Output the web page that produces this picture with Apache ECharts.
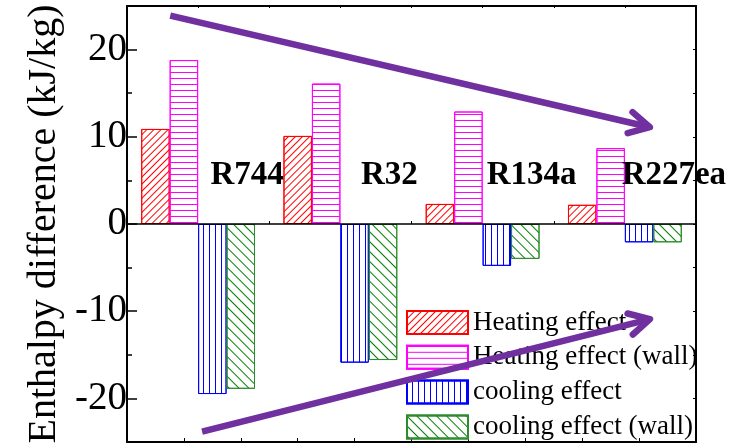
<!DOCTYPE html>
<html>
<head>
<meta charset="utf-8">
<script src="https://cdn.jsdelivr.net/npm/echarts@6/dist/echarts.min.js"></script>
<style>
  html, body { margin: 0; padding: 0; background: #fff; }
  #chart { width: 734px; height: 448px; }
</style>
</head>
<body>
<div id="chart"></div>
<script>
// Enthalpy difference per refrigerant (kJ/kg)
const refrigerants = ['R744', 'R32', 'R134a', 'R227ea'];
const heatingEffect = [10.9, 10.1, 2.3, 2.2];
const heatingEffectWall = [18.8, 16.1, 12.9, 8.7];
const coolingEffect = [-19.5, -15.9, -4.8, -2.1];
const coolingEffectWall = [-18.9, -15.6, -4.0, -2.1];
const seriesNames = ['Heating effect', 'Heating effect (wall)', 'cooling effect', 'cooling effect (wall)'];

const yMajorTicks = [-20, -10, 0, 10, 20];
const yMinorTicks = [-15, -5, 5, 15];

// Trend arrows: [xStart, yStart, xEnd, yEnd], x on the 0..10 frame scale, y in kJ/kg
const trendArrows = [
  [0.76, 23.9, 9.19, 11.1],
  [1.32, -23.8, 9.19, -10.9]
];

const SERIF = '"Liberation Serif", "Times New Roman", serif';

// Line hatching drawn with ECharts decals
function hatch(color, gap, rotation) {
  return {
    symbol: 'rect',
    symbolSize: 1,
    dashArrayX: [1, 0],
    dashArrayY: [1, gap],
    rotation: rotation,
    color: color
  };
}

function barSeries(name, data, decal, border) {
  return {
    name: name,
    type: 'bar',
    xAxisIndex: 0,
    yAxisIndex: 0,
    data: data,
    barGap: '0%',
    barCategoryGap: '20%',
    itemStyle: { color: '#ffffff', borderColor: border, borderWidth: 1, decal: decal },
    emphasis: { disabled: true },
    z: 2
  };
}

const chart = echarts.init(document.getElementById('chart'), null, { renderer: 'canvas' });

chart.setOption({
  animation: false,
  backgroundColor: '#fff',
  grid: { left: 127, right: 38, top: 6, bottom: 6, containLabel: false, outerBoundsMode: 'none' },
  legend: {
    orient: 'vertical',
    left: 406,
    top: 309,
    height: 140,
    padding: 0,
    itemWidth: 61,
    itemHeight: 23,
    itemGap: 7.8,
    icon: 'rect',
    data: seriesNames,
    selectedMode: false,
    textStyle: { fontFamily: SERIF, fontSize: 27, color: '#000' },
    z: 3
  },
  xAxis: [
    {
      type: 'category',
      data: refrigerants,
      position: 'bottom',
      axisLine: { onZero: true, lineStyle: { color: '#000', width: 1.5 } },
      axisTick: { show: true, inside: true, length: 3, lineStyle: { color: '#000' } },
      axisLabel: { show: false },
      splitLine: { show: false },
      z: 5
    },
    {
      type: 'value', min: 0, max: 10, interval: 1, position: 'bottom',
      axisLine: { onZero: false, lineStyle: { color: '#000', width: 2 } },
      axisTick: { inside: true, length: 4, lineStyle: { color: '#000', width: 1 } },
      axisLabel: { show: false },
      splitLine: { show: false }
    },
    {
      type: 'value', min: 0, max: 8, interval: 1, position: 'top',
      axisLine: { onZero: false, lineStyle: { color: '#000', width: 2 } },
      axisTick: { inside: true, length: 2, lineStyle: { color: '#000', width: 1 } },
      axisLabel: { show: false },
      splitLine: { show: false }
    }
  ],
  yAxis: [
    {
      type: 'value', min: -25, max: 25, position: 'left',
      name: 'Enthalpy difference (kJ/kg)',
      nameLocation: 'middle',
      nameGap: 62,
      nameTextStyle: { fontFamily: SERIF, fontSize: 40, color: '#000' },
      axisLine: { onZero: false, lineStyle: { color: '#000', width: 2 } },
      axisTick: { inside: true, length: 10, customValues: yMajorTicks, lineStyle: { color: '#000', width: 1.5 } },
      axisLabel: { customValues: yMajorTicks, fontFamily: SERIF, fontSize: 39, color: '#000', margin: 0 },
      splitLine: { show: false }
    },
    {
      type: 'value', min: -25, max: 25, position: 'left',
      axisLine: { show: false, onZero: false },
      axisTick: { inside: true, length: 5, customValues: yMinorTicks, lineStyle: { color: '#000', width: 1.5 } },
      axisLabel: { show: false },
      splitLine: { show: false }
    },
    {
      type: 'value', min: -25, max: 25, interval: 5, position: 'right',
      axisLine: { onZero: false, lineStyle: { color: '#000', width: 2 } },
      axisTick: { inside: true, length: 3, lineStyle: { color: '#000', width: 1 } },
      axisLabel: { show: false },
      splitLine: { show: false }
    }
  ],
  series: [
    barSeries(seriesNames[0], heatingEffect, hatch('#ff0000', 4, -Math.PI / 4), '#ff0000'),
    barSeries(seriesNames[1], heatingEffectWall, hatch('#ff00ff', 4.6, 0), '#ff00ff'),
    barSeries(seriesNames[2], coolingEffect, hatch('#0000ff', 4.5, Math.PI / 2), '#0000ff'),
    barSeries(seriesNames[3], coolingEffectWall, hatch('#008000', 6, Math.PI / 4), '#2e8b2e'),
    {
      // refrigerant names beside each group
      type: 'custom',
      xAxisIndex: 0,
      yAxisIndex: 0,
      silent: true,
      z: 6,
      data: refrigerants.map(function (n, i) { return [i, 0]; }),
      renderItem: function (params, api) {
        const p = api.coord([api.value(0), 0]);
        return {
          type: 'text',
          x: p[0] + 49,
          y: p[1] - 49,
          style: {
            text: refrigerants[params.dataIndex],
            font: 'bold 33px ' + SERIF,
            fill: '#000',
            align: 'center',
            verticalAlign: 'middle'
          }
        };
      }
    },
    {
      // trend arrows with open chevron heads
      type: 'custom',
      xAxisIndex: 1,
      yAxisIndex: 0,
      silent: true,
      z: 10,
      data: trendArrows,
      renderItem: function (params, api) {
        const a = api.coord([api.value(0), api.value(1)]);
        const b = api.coord([api.value(2), api.value(3)]);
        const ang = Math.atan2(b[1] - a[1], b[0] - a[0]);
        const len = 23, spread = 28 * Math.PI / 180;
        const h1 = [b[0] - len * Math.cos(ang - spread), b[1] - len * Math.sin(ang - spread)];
        const h2 = [b[0] - len * Math.cos(ang + spread), b[1] - len * Math.sin(ang + spread)];
        const stroke = { stroke: '#7030a0', lineWidth: 6.5, fill: null };
        return {
          type: 'group',
          children: [
            { type: 'polyline', shape: { points: [a, [b[0] - 2 * Math.cos(ang), b[1] - 2 * Math.sin(ang)]] }, style: Object.assign({ lineCap: 'butt' }, stroke) },
            { type: 'polyline', shape: { points: [h1, b, h2] }, style: Object.assign({ lineCap: 'round', lineJoin: 'round' }, stroke) }
          ]
        };
      }
    }
  ]
});
</script>
</body>
</html>
